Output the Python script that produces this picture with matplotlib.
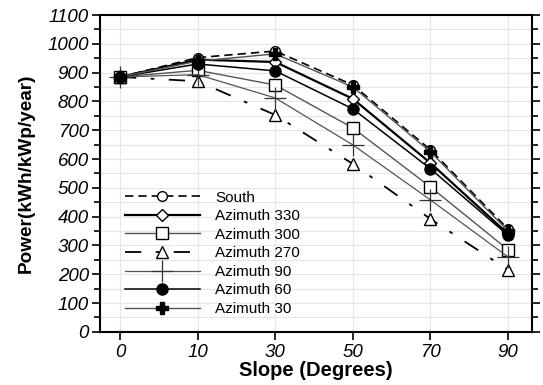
import matplotlib
matplotlib.use("Agg")
import matplotlib.pyplot as plt
from matplotlib.ticker import MultipleLocator

plt.rcParams['font.family'] = ['Liberation Sans', 'DejaVu Sans']

slopes = ["0", "10", "30", "50", "70", "90"]
south = [885, 952, 975, 857, 632, 357]
az330 = [885, 945, 937, 809, 586, 340]
az300 = [885, 908, 857, 708, 503, 285]
az270 = [885, 870, 753, 583, 392, 215]
az90 = [885, 893, 812, 649, 458, 260]
az60 = [885, 930, 906, 774, 566, 335]
az30 = [885, 940, 965, 850, 625, 350]

series = [
    ("South", south, dict(color='black', ls=(0, (5, 3)), lw=1.2, marker='o', mfc='white', mec='black', ms=7)),
    ("Azimuth 330", az330, dict(color='black', ls='-', lw=1.6, marker='D', mfc='white', mec='black', ms=6)),
    ("Azimuth 300", az300, dict(color='#555555', ls='-', lw=1.0, marker='s', mfc='white', mec='black', ms=8)),
    ("Azimuth 270", az270, dict(color='black', ls=(0, (9, 8, 2, 8)), lw=1.3, marker='^', mfc='white', mec='black', ms=8)),
    ("Azimuth 90", az90, dict(color='#555555', ls='-', lw=0.9, marker='+', mec='#333333', ms=16, mew=0.9)),
    ("Azimuth 60", az60, dict(color='black', ls='-', lw=1.1, marker='o', mfc='black', mec='black', ms=8)),
    ("Azimuth 30", az30, dict(color='#555555', ls='-', lw=1.0, marker='P', mfc='black', mec='black', ms=8)),
]

fig = plt.figure(figsize=(5.43, 3.85), dpi=100)
ax = fig.add_axes([0.184, 0.138, 0.796, 0.823])

x = list(range(len(slopes)))
for name, vals, st in series:
    ax.plot(x, vals, label=name, **st)

ax.set_xlim(-0.26, 5.31)
ax.set_ylim(0, 1100)
ax.set_xticks(x)
ax.set_xticklabels(slopes)
ax.yaxis.set_major_locator(MultipleLocator(100))
ax.yaxis.set_minor_locator(MultipleLocator(50))
ax.grid(True, which='both', axis='y', color='#e6e6e6', lw=0.8)
ax.grid(True, which='major', axis='x', color='#e6e6e6', lw=0.8)
ax.set_axisbelow(True)

for lab in ax.get_xticklabels() + ax.get_yticklabels():
    lab.set_fontstyle('italic')
    lab.set_fontsize(13.5)

ax.tick_params(axis='y', which='both', direction='out', right=True, length=6, width=1.2, pad=2)
ax.tick_params(axis='y', which='minor', length=4)
ax.tick_params(axis='x', direction='out', length=6, width=1.2, pad=3)
for s in ax.spines.values():
    s.set_linewidth(1.5)

ax.set_xlabel("Slope (Degrees)", fontsize=14.5, fontweight='bold', labelpad=0)
ax.set_ylabel("Power(kWh/kWp/year)", fontsize=13.7, fontweight='bold', labelpad=9)

ax.legend(loc='lower left', bbox_to_anchor=(0.058, 0.05), frameon=False, fontsize=11,
          handlelength=4.9, labelspacing=0.3, handletextpad=1.0, borderaxespad=0, borderpad=0)

fig.savefig("out.png", dpi=100)
